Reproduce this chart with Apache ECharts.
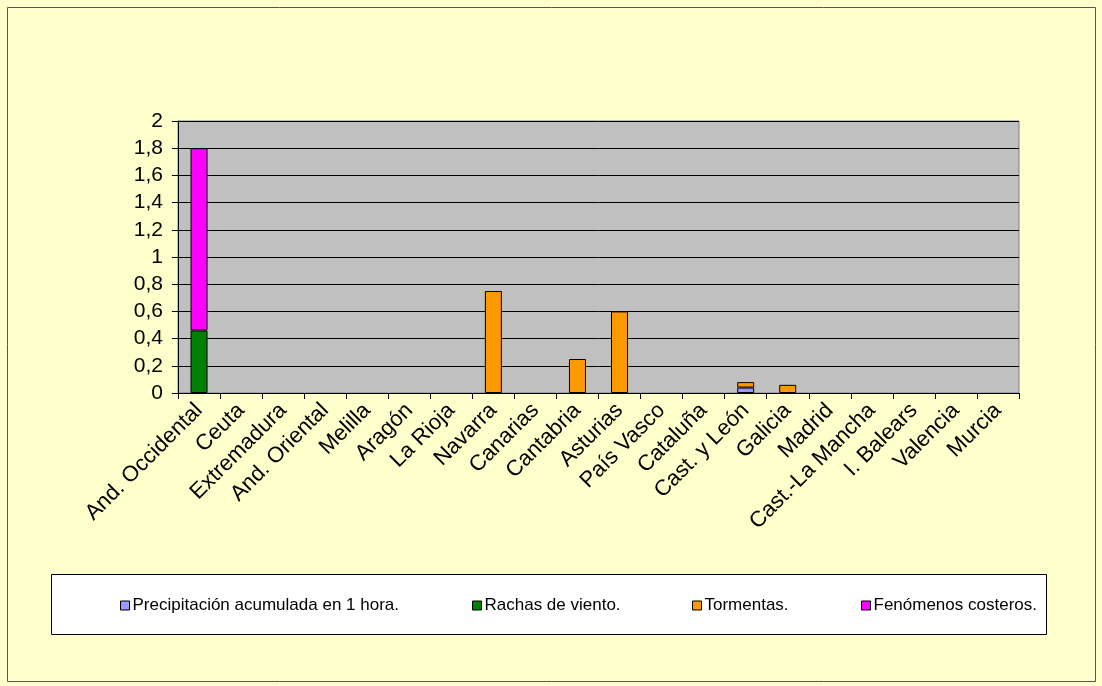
<!DOCTYPE html>
<html>
<head>
<meta charset="utf-8">
<script src="https://cdn.jsdelivr.net/npm/echarts@6/dist/echarts.min.js"></script>
<style>
  html, body { margin: 0; padding: 0; background: #FFFFCC; }
  #chart { width: 1102px; height: 686px; }
</style>
</head>
<body>
<div id="chart"></div>
<script>
var categories = ['And. Occidental', 'Ceuta', 'Extremadura', 'And. Oriental', 'Melilla', 'Aragón', 'La Rioja',
  'Navarra', 'Canarias', 'Cantabria', 'Asturias', 'País Vasco', 'Cataluña', 'Cast. y León', 'Galicia',
  'Madrid', 'Cast.-La Mancha', 'I. Balears', 'Valencia', 'Murcia'];
var seriesNames = ['Precipitación acumulada en 1 hora.', 'Rachas de viento.', 'Tormentas.', 'Fenómenos costeros.'];
var precipitacion = [0, 0, 0, 0, 0, 0, 0, 0, 0, 0, 0, 0, 0, 0.04, 0, 0, 0, 0, 0, 0];
var rachas = [0.46, 0, 0, 0, 0, 0, 0, 0, 0, 0, 0, 0, 0, 0, 0, 0, 0, 0, 0, 0];
var tormentas = [0, 0, 0, 0, 0, 0, 0, 0.75, 0, 0.25, 0.6, 0, 0, 0.04, 0.06, 0, 0, 0, 0, 0];
var fenomenos = [1.34, 0, 0, 0, 0, 0, 0, 0, 0, 0, 0, 0, 0, 0, 0, 0, 0, 0, 0, 0];
var colors = ['#9999FF', '#008000', '#FF9900', '#FF00FF'];
var legendLeft = [120, 472, 692, 861];

var font = '"Liberation Sans", Arial, sans-serif';
var chart = echarts.init(document.getElementById('chart'));

function clean(arr) {
  // zero values would draw a flat bordered bar
  return arr.map(function (v) { return v === 0 ? null : v; });
}

var values = [precipitacion, rachas, tormentas, fenomenos];
var series = values.map(function (arr, i) {
  return {
    name: seriesNames[i],
    type: 'bar',
    stack: 'total',
    barWidth: 17,
    data: clean(arr),
    itemStyle: { color: colors[i], borderColor: '#000', borderWidth: 1 }
  };
});

var legends = seriesNames.map(function (n, i) {
  return {
    data: [n],
    left: legendLeft[i],
    top: 597,
    padding: 0,
    z: 10,
    selectedMode: false,
    icon: 'rect',
    itemWidth: 9,
    itemHeight: 9,
    itemStyle: { borderColor: '#000', borderWidth: 1 },
    textStyle: { fontFamily: font, fontSize: 17, color: '#000', padding: [0, 0, 0, -2] }
  };
});

var option = {
  backgroundColor: '#FFFFCC',
  animation: false,
  color: colors,
  grid: {
    left: 178,
    right: 83,
    top: 121,
    bottom: 293,
    show: true,
    backgroundColor: '#C0C0C0',
    borderColor: '#808080',
    borderWidth: 1
  },
  graphic: [
    {
      type: 'rect',
      z: 0,
      shape: { x: 7.5, y: 7.5, width: 1088, height: 674 },
      style: { fill: 'none', stroke: '#555', lineWidth: 1 }
    },
    {
      type: 'rect',
      z: 0,
      shape: { x: 51.5, y: 574.5, width: 995, height: 60 },
      style: { fill: '#fff', stroke: '#000', lineWidth: 1 }
    }
  ],
  legend: legends,
  xAxis: {
    type: 'category',
    data: categories,
    axisLine: { lineStyle: { color: '#000', width: 1 } },
    axisTick: { show: true, length: 6, lineStyle: { color: '#000' } },
    axisLabel: {
      rotate: 45,
      interval: 0,
      margin: 14,
      fontFamily: font,
      fontSize: 22,
      color: '#000'
    }
  },
  yAxis: {
    type: 'value',
    min: 0,
    max: 2,
    interval: 0.2,
    axisLine: { show: true, lineStyle: { color: '#000', width: 1 } },
    axisTick: { show: true, length: 6, lineStyle: { color: '#000' } },
    splitLine: { lineStyle: { color: '#000', width: 1 } },
    axisLabel: {
      margin: 15,
      fontFamily: font,
      fontSize: 21,
      color: '#000',
      formatter: function (v) {
        return String(Math.round(v * 10) / 10).replace('.', ',');
      }
    }
  },
  series: series
};

chart.setOption(option);
</script>
</body>
</html>
